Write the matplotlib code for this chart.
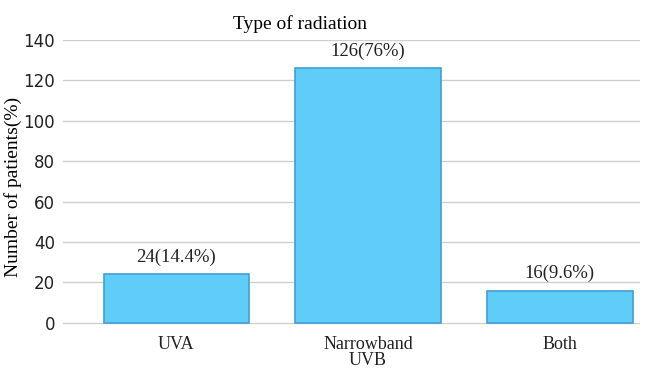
import numpy as np
import matplotlib.pyplot as plt

categories = ['UVA', 'Narrowband\nUVB', 'Both']
counts = [24, 126, 16]
labels = ['24(14.4%)', '126(76%)', '16(9.6%)']
yticks = [0, 20, 40, 60, 80, 100, 120, 140]

serif = 'Liberation Serif'

fig = plt.figure(figsize=(6.46, 3.70), dpi=100)
ax = fig.add_axes([0.098, 0.10, 0.893, 0.792])

x = np.arange(len(categories))
ax.bar(x, counts, width=0.76, color='#5fcdf8', edgecolor='#3f9fd6',
       linewidth=1.2, zorder=3)

for xi, c, lab in zip(x, counts, labels):
    ax.text(xi, c + 4, lab, ha='center', va='bottom', family=serif,
            fontsize=13.5, color='#222222', zorder=4)

ax.set_ylim(-5, 140)
ax.set_xlim(-0.59, 2.42)
ax.set_yticks(yticks)
ax.set_yticklabels([str(t) for t in yticks], fontsize=12, color='#222222')
ax.tick_params(axis='y', length=0, pad=6)
ax.set_xticks(x)
ax.set_xticklabels(categories, family=serif, fontsize=13, color='#222222',
                   linespacing=0.95)
ax.tick_params(axis='x', length=0, pad=2)
ax.grid(axis='y', color='#cfcfcf', linewidth=1, zorder=0)
for s in ax.spines.values():
    s.set_visible(False)

ax.set_ylabel('Number of patients(%)', family=serif, fontsize=14, labelpad=1)
ax.set_title('Type of radiation', family=serif, fontsize=14, pad=8, x=0.41)

plt.savefig('out.png', dpi=100)
